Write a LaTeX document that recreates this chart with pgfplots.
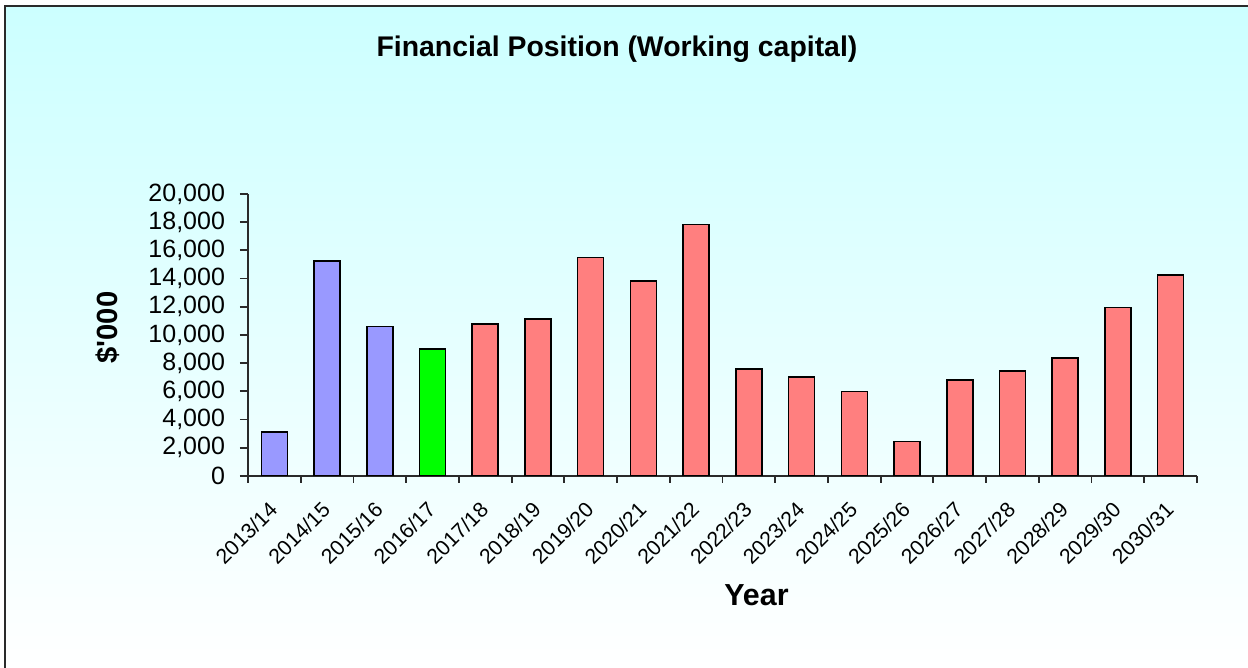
\documentclass[border=0pt]{standalone}
\usepackage{pgfplots}
\pgfplotsset{compat=1.18}
\usepackage{fontspec}
\setmainfont{Liberation Sans}
\definecolor{bgcyan}{HTML}{CCFFFF}
\definecolor{barblue}{HTML}{9999FF}
\definecolor{bargreen}{HTML}{00FF00}
\definecolor{barred}{HTML}{FF7F7F}
\definecolor{axisgray}{HTML}{2A2A2A}
\begin{document}
\begin{tikzpicture}
\useasboundingbox (0,0) rectangle (624pt,334pt);
\fill[white] (0,0) rectangle (624pt,334pt);
\shade[top color=bgcyan, bottom color=white] (2.5pt,0) rectangle (624pt,331pt);
\draw[line width=1pt, axisgray] (2.5pt,0) -- (2.5pt,331pt) -- (624pt,331pt);
\begin{axis}[
  at={(124pt,96pt)}, anchor=south west,
  scale only axis, width=474.5pt, height=141pt,
  xmin=-0.5, xmax=17.5, ymin=0, ymax=20000,
  axis x line*=bottom, axis y line*=left,
  axis line style={axisgray, line width=0.9pt},
  every tick/.style={axisgray, line width=0.9pt},
  tick align=outside,
  major tick length=4pt, minor tick length=3.5pt,
  ytick={0,2000,...,20000},
  scaled y ticks=false,
  xtick={0,...,17},
  xticklabels={2013/14,2014/15,2015/16,2016/17,2017/18,2018/19,2019/20,2020/21,2021/22,2022/23,2023/24,2024/25,2025/26,2026/27,2027/28,2028/29,2029/30,2030/31},
  major x tick style={draw=none},
  minor xtick={-0.5,0.5,...,17.5},
  xticklabel style={font=\fontsize{10.6}{12}\selectfont, xshift=2pt, rotate=45, anchor=east},
  xticklabel shift=8.5pt,
  yticklabel shift=4pt,
  yticklabel style={font=\fontsize{12.5}{15}\selectfont, /pgf/number format/fixed, /pgf/number format/1000 sep={,}, /pgf/number format/assume math mode=true},
  title={Financial Position (Working capital)},
  title style={font=\fontsize{14.2}{17}\selectfont\bfseries, at={(axis description cs:0.3888,1.445)}, anchor=base},
  xlabel={Year},
  xlabel style={font=\fontsize{15.2}{18}\selectfont\bfseries, at={(axis description cs:0.5358,-0.461)}, anchor=base},
  ylabel={\$\textquotesingle 000},
  ylabel style={font=\fontsize{14.6}{17}\selectfont\bfseries, at={(axis description cs:-0.138,0.5266)}, anchor=base, rotate=0},
]
\addplot[ybar, bar width=13pt, bar shift=0pt, fill=barblue, draw=black, line width=0.8pt]
  coordinates {(0,3100) (1,15250) (2,10600)};
\addplot[ybar, bar width=13pt, bar shift=0pt, fill=bargreen, draw=black, line width=0.8pt]
  coordinates {(3,9000)};
\addplot[ybar, bar width=13pt, bar shift=0pt, fill=barred, draw=black, line width=0.8pt]
  coordinates {(4,10800) (5,11150) (6,15500) (7,13850) (8,17850) (9,7600) (10,7000) (11,6000) (12,2450) (13,6800) (14,7450) (15,8350) (16,11950) (17,14250)};
\end{axis}
\end{tikzpicture}
\end{document}
